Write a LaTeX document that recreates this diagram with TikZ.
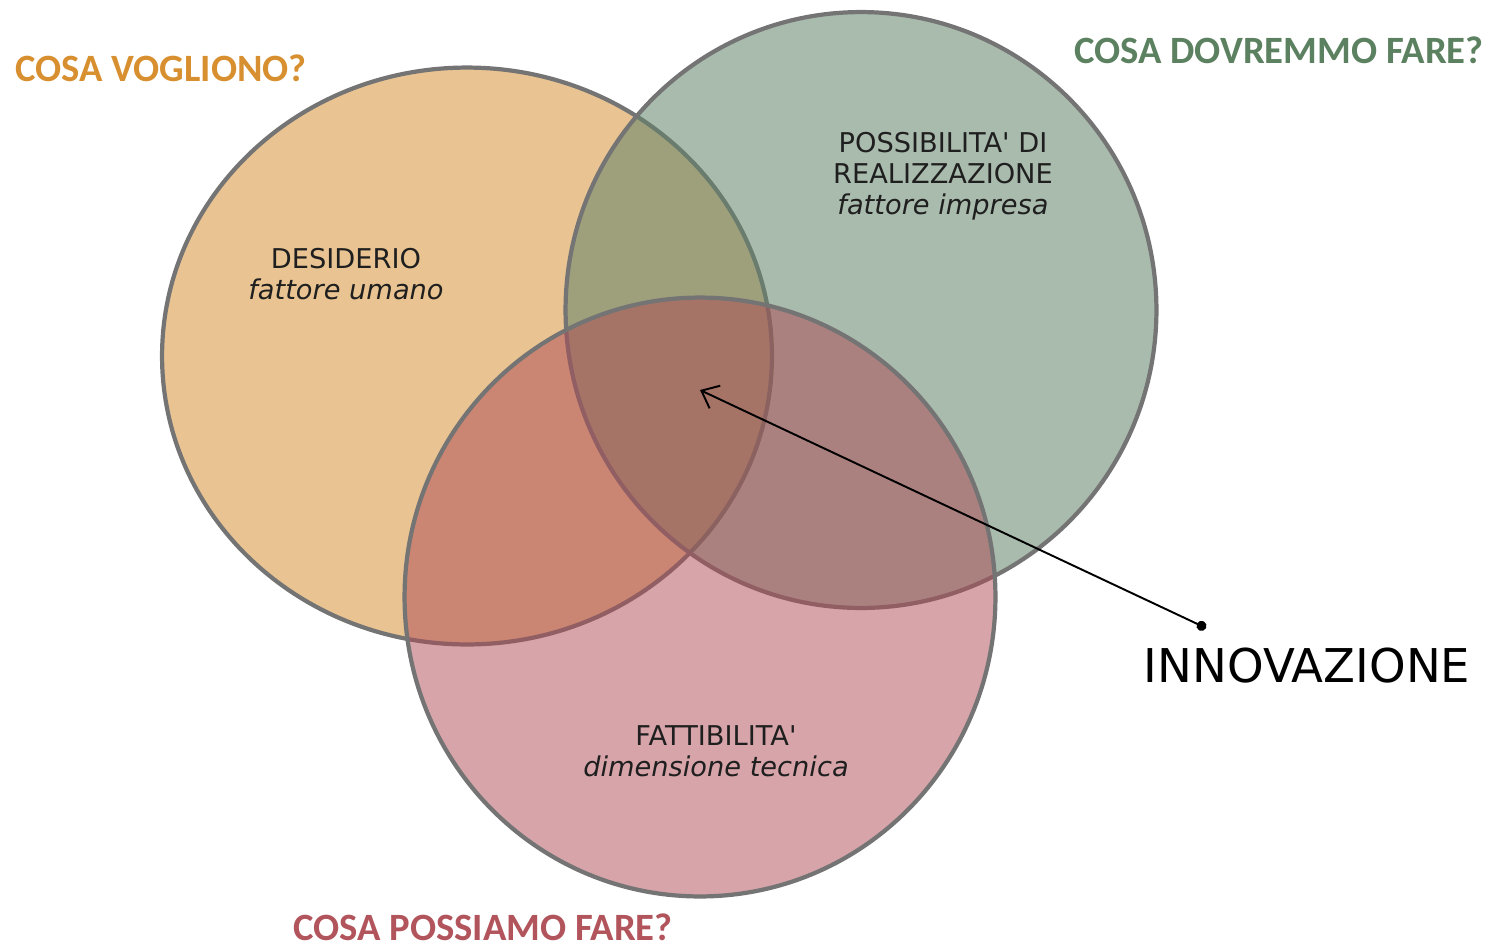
\documentclass[tikz,border=0pt]{standalone}
\usepackage{fontspec}
\setmainfont{Carlito}
\newfontfamily\hand{DejaVu Sans}
\usetikzlibrary{shapes.geometric,arrows.meta}
\definecolor{orfill}{HTML}{E9C492}
\definecolor{grfill}{HTML}{628369}
\definecolor{pkfill}{HTML}{AD4953}
\definecolor{rim}{HTML}{747474}
\definecolor{ortext}{HTML}{D88F2F}
\definecolor{grtext}{HTML}{5C8160}
\definecolor{pktext}{HTML}{B2545C}
\tikzset{
  venn/.style={ellipse, draw=rim, line width=2.4pt, inner sep=0pt},
  qlabel/.style={font=\fontsize{22}{24}\selectfont\bfseries, inner sep=0pt},
  hlabel/.style={font=\hand\fontsize{15.5}{17.5}\selectfont, align=center, inner sep=0pt, text=black!88},
}
\begin{document}
\begin{tikzpicture}[x=0.02cm, y=-0.02cm]
\useasboundingbox (0,0) rectangle (1491,948);
\node[venn, fill=orfill, minimum width=12.2cm, minimum height=11.54cm] (want) at (467,356) {};
\node[venn, fill=grfill, fill opacity=0.55, minimum width=11.82cm, minimum height=11.92cm] (should) at (861,310) {};
\node[venn, fill=pkfill, fill opacity=0.5, minimum width=11.82cm, minimum height=11.98cm] (can) at (700,597) {};

\node[qlabel, text=ortext] (qwant) at (161,68) {COSA VOGLIONO?};
\node[qlabel, text=grtext] (qshould) at (1279,50) {COSA DOVREMMO FARE?};
\node[qlabel, text=pktext] (qcan) at (483,927) {COSA POSSIAMO FARE?};

\node[hlabel] (tdes) at (346,274) {DESIDERIO\\\itshape fattore umano};
\node[hlabel] (tpos) at (943,176) {POSSIBILITA' DI\\REALIZZAZIONE\\\itshape fattore impresa};
\node[hlabel] (tfat) at (716,751) {FATTIBILITA'\\\itshape dimensione tecnica};

\coordinate (dot) at (1206,628);
\coordinate (tip) at (700,390);
\draw[line width=1.1pt, {Straight Barb[length=3mm,width=5mm]}-{Circle[length=2mm]}] (tip) -- (dot);
\node[font=\hand\fontsize{26.5}{28}\selectfont, inner sep=0pt] (innov) at (1307,666) {INNOVAZIONE};
\end{tikzpicture}
\end{document}
